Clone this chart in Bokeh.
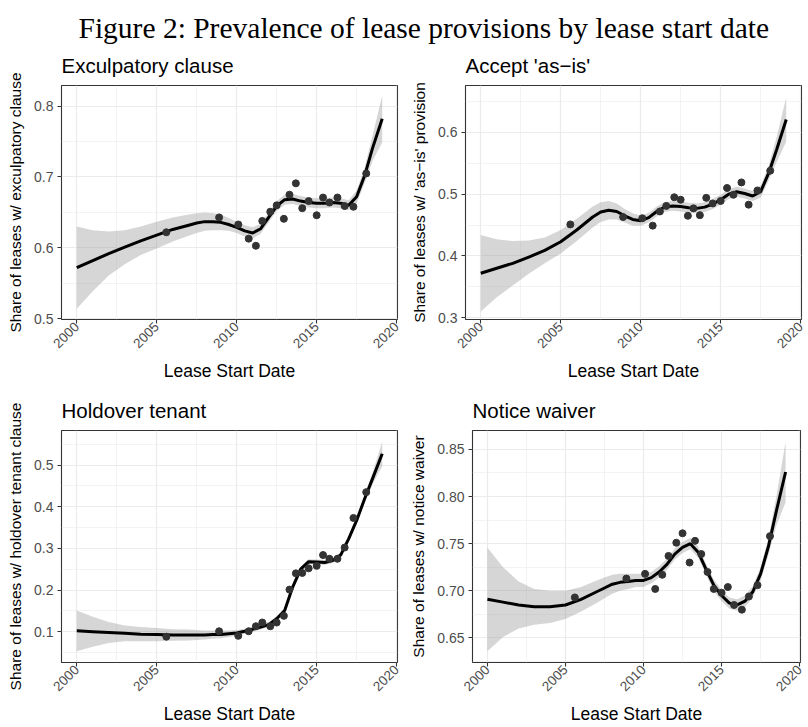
import math
from bokeh.plotting import figure
from bokeh.layouts import column, row
from bokeh.models import Range1d, FixedTicker, PrintfTickFormatter
from bokeh.embed import file_html
from bokeh.resources import INLINE

# ---- data -------------------------------------------------------------
TITLE = "Figure 2: Prevalence of lease provisions by lease start date"

# lease start dates (decimal years) of the binned observations
years = [2005.6, 2008.9, 2010.1, 2010.75, 2011.2, 2011.6, 2012.1, 2012.5, 2012.95, 2013.3,
         2013.7, 2014.1, 2014.5, 2015.0, 2015.4, 2015.8, 2016.3, 2016.75, 2017.3, 2018.1]

exculpatory = [0.622, 0.643, 0.633, 0.613, 0.603, 0.638, 0.651, 0.660, 0.641, 0.675,
               0.691, 0.656, 0.666, 0.646, 0.671, 0.664, 0.671, 0.659, 0.658, 0.705]
as_is = [0.451, 0.463, 0.461, 0.449, 0.472, 0.481, 0.495, 0.491, 0.465, 0.477,
         0.466, 0.494, 0.485, 0.489, 0.510, 0.499, 0.519, 0.483, 0.506, 0.538]
holdover = [0.088, 0.101, 0.090, 0.101, 0.113, 0.122, 0.113, 0.122, 0.138, 0.201,
            0.240, 0.241, 0.252, 0.258, 0.284, 0.275, 0.275, 0.302, 0.373, 0.435]
notice = [0.693, 0.713, 0.718, 0.702, 0.717, 0.737, 0.751, 0.761, 0.730, 0.753,
          0.739, 0.720, 0.702, 0.698, 0.704, 0.685, 0.680, 0.694, 0.706, 0.758]

# smoothed trend: evaluation dates, fitted share and confidence half-width
fit_x = [2000, 2001, 2002, 2003, 2004, 2005, 2006, 2007, 2007.5, 2008, 2008.5, 2009, 2009.5,
         2010, 2010.5, 2011, 2011.5, 2012, 2012.5, 2013, 2013.5, 2014, 2014.5, 2015, 2015.5,
         2016, 2016.5, 2017, 2017.5, 2018, 2018.5, 2019.1]

exculpatory_fit = [0.572, 0.582, 0.592, 0.601, 0.610, 0.618, 0.626, 0.632, 0.635, 0.637, 0.637,
                   0.636, 0.633, 0.629, 0.624, 0.621, 0.627, 0.643, 0.659, 0.668, 0.669, 0.666,
                   0.664, 0.663, 0.663, 0.664, 0.663, 0.660, 0.672, 0.702, 0.741, 0.782]
exculpatory_se = [0.058, 0.043, 0.031, 0.024, 0.020, 0.019, 0.017, 0.015, 0.014, 0.013, 0.012,
                  0.011, 0.009, 0.008, 0.008, 0.008, 0.007, 0.007, 0.007, 0.007, 0.007, 0.007,
                  0.007, 0.007, 0.007, 0.007, 0.007, 0.007, 0.009, 0.011, 0.018, 0.033]

as_is_fit = [0.372, 0.380, 0.388, 0.398, 0.409, 0.423, 0.442, 0.463, 0.471, 0.474, 0.472,
             0.465, 0.459, 0.457, 0.462, 0.472, 0.479, 0.481, 0.480, 0.478, 0.477, 0.479,
             0.484, 0.491, 0.500, 0.504, 0.501, 0.497, 0.504, 0.534, 0.572, 0.621]
as_is_se = [0.062, 0.047, 0.036, 0.027, 0.021, 0.019, 0.018, 0.017, 0.016, 0.015, 0.013,
            0.011, 0.010, 0.008, 0.008, 0.008, 0.008, 0.008, 0.008, 0.008, 0.008, 0.008,
            0.008, 0.008, 0.008, 0.008, 0.008, 0.008, 0.010, 0.012, 0.020, 0.036]

holdover_fit = [0.102, 0.100, 0.098, 0.096, 0.094, 0.093, 0.092, 0.092, 0.092, 0.092, 0.093,
                0.093, 0.095, 0.097, 0.101, 0.106, 0.111, 0.117, 0.131, 0.151, 0.207, 0.250,
                0.268, 0.267, 0.266, 0.271, 0.284, 0.323, 0.367, 0.419, 0.468, 0.527]
holdover_se = [0.049, 0.036, 0.025, 0.019, 0.017, 0.016, 0.014, 0.013, 0.012, 0.011, 0.010,
               0.009, 0.008, 0.007, 0.006, 0.006, 0.006, 0.006, 0.006, 0.006, 0.006, 0.006,
               0.006, 0.006, 0.006, 0.006, 0.006, 0.006, 0.007, 0.009, 0.014, 0.029]

notice_fit = [0.691, 0.688, 0.685, 0.683, 0.683, 0.685, 0.691, 0.699, 0.703, 0.707, 0.709,
              0.710, 0.711, 0.711, 0.714, 0.720, 0.728, 0.739, 0.746, 0.750, 0.741, 0.723,
              0.706, 0.695, 0.687, 0.685, 0.689, 0.699, 0.718, 0.747, 0.784, 0.826]
notice_se = [0.055, 0.037, 0.025, 0.019, 0.017, 0.015, 0.013, 0.012, 0.011, 0.010, 0.009,
             0.008, 0.007, 0.007, 0.006, 0.006, 0.006, 0.006, 0.006, 0.006, 0.006, 0.006,
             0.006, 0.006, 0.006, 0.006, 0.006, 0.006, 0.007, 0.009, 0.015, 0.032]

x_ticks = [2000, 2005, 2010, 2015, 2020]
x_minor = [1997.5, 2002.5, 2007.5, 2012.5, 2017.5, 2022.5]

# ---- styling ----------------------------------------------------------
SANS = "Liberation Sans"
GRID = "#EBEBEB"
DARK = "#333333"


def panel(title, ylabel, share, fit, se, y_range, y_ticks, y_minor, fmt,
          width, height, border_left, border_right, border_top, border_bottom):
    p = figure(width=width, height=height, toolbar_location=None, output_backend="svg",
               x_range=Range1d(1999.045, 2020.055), y_range=Range1d(*y_range),
               min_border_left=border_left, min_border_right=border_right,
               min_border_top=border_top, min_border_bottom=border_bottom)

    p.title.text = title
    p.title.text_font = SANS
    p.title.text_font_size = "20.5px"
    p.title.text_font_style = "normal"
    p.title.text_color = "black"
    p.title.align = "left"
    p.title.vertical_align = "top"
    p.title.standoff = 14

    p.outline_line_color = DARK
    p.outline_line_width = 1.1
    p.background_fill_color = "white"
    p.border_fill_color = "white"

    p.xaxis.ticker = FixedTicker(ticks=x_ticks, minor_ticks=x_minor)
    p.yaxis.ticker = FixedTicker(ticks=y_ticks, minor_ticks=y_minor)
    p.xaxis.formatter = PrintfTickFormatter(format="%d")
    p.yaxis.formatter = PrintfTickFormatter(format=fmt)

    for ax in (p.xaxis, p.yaxis):
        ax.axis_line_color = None
        ax.major_tick_line_color = DARK
        ax.major_tick_line_width = 1.1
        ax.major_tick_out = 4
        ax.major_tick_in = 0
        ax.minor_tick_out = 0
        ax.minor_tick_in = 0
        ax.major_label_text_color = "#4D4D4D"
        ax.major_label_text_font = SANS
        ax.axis_label_text_font = SANS
        ax.axis_label_text_font_style = "normal"
        ax.axis_label_text_color = "black"

    p.xaxis.axis_label = "Lease Start Date"
    p.xaxis.axis_label_text_font_size = "17.5px"
    p.xaxis.major_label_text_font_size = "13.5px"
    p.xaxis.major_label_orientation = math.pi / 4
    p.xaxis.major_label_standoff = 1
    p.xaxis.axis_label_standoff = 6

    p.yaxis.axis_label = ylabel
    p.yaxis.axis_label_text_font_size = "15.5px"
    p.yaxis.major_label_text_font_size = "14px"
    p.yaxis.major_label_standoff = 4
    p.yaxis.axis_label_standoff = 7

    for g in (p.xgrid, p.ygrid):
        g.grid_line_color = GRID
        g.grid_line_width = 1.2
        g.minor_grid_line_color = GRID
        g.minor_grid_line_width = 0.6

    lower = [f - s for f, s in zip(fit, se)]
    upper = [f + s for f, s in zip(fit, se)]
    p.varea(x=fit_x, y1=lower, y2=upper, fill_color="#999999", fill_alpha=0.4)
    p.line(x=fit_x, y=fit, line_color="black", line_width=3)
    p.scatter(x=years, y=share, size=7, fill_color=DARK, line_color=DARK)
    return p


TOP_H, ROW1_H, ROW2_H = 46, 340, 341

# heading strip: the figure title sits in the border above a tiny empty frame
head = figure(width=808, height=TOP_H, toolbar_location=None, output_backend="svg",
              x_range=Range1d(0, 1), y_range=Range1d(0, 1),
              min_border_left=0, min_border_right=0, min_border_top=43, min_border_bottom=0,
              x_axis_location=None, y_axis_location=None, outline_line_color=None)
head.grid.visible = False
head.title.text = TITLE
head.title.text_font = "Liberation Serif"
head.title.text_font_size = "29.5px"
head.title.text_font_style = "normal"
head.title.text_color = "black"
head.title.align = "left"
head.title.offset = 78
head.title.standoff = 0

p1 = panel("Exculpatory clause", "Share of leases w/ exculpatory clause",
           exculpatory, exculpatory_fit, exculpatory_se, (0.499, 0.829),
           [0.5, 0.6, 0.7, 0.8], [0.45, 0.55, 0.65, 0.75, 0.85], "%.1f",
           404, ROW1_H, 61, 7, 39, 67)
p2 = panel("Accept 'as\u2212is'", "Share of leases w/ 'as\u2212is' provision",
           as_is, as_is_fit, as_is_se, (0.297, 0.676),
           [0.3, 0.4, 0.5, 0.6], [0.25, 0.35, 0.45, 0.55, 0.65], "%.1f",
           404, ROW1_H, 61, 7, 39, 67)
p3 = panel("Holdover tenant", "Share of leases w/ holdover tenant clause",
           holdover, holdover_fit, holdover_se, (0.026, 0.583),
           [0.1, 0.2, 0.3, 0.4, 0.5], [0.05, 0.15, 0.25, 0.35, 0.45, 0.55], "%.1f",
           404, ROW2_H, 61, 7, 44, 60)
p4 = panel("Notice waiver", "Share of leases w/ notice waiver",
           notice, notice_fit, notice_se, (0.624, 0.870),
           [0.65, 0.70, 0.75, 0.80, 0.85], [0.625, 0.675, 0.725, 0.775, 0.825, 0.875], "%.2f",
           404, ROW2_H, 68, 8, 44, 60)

layout = column(head, row(p1, p2), row(p3, p4))

open("out.html", "w").write(file_html(layout, INLINE))
